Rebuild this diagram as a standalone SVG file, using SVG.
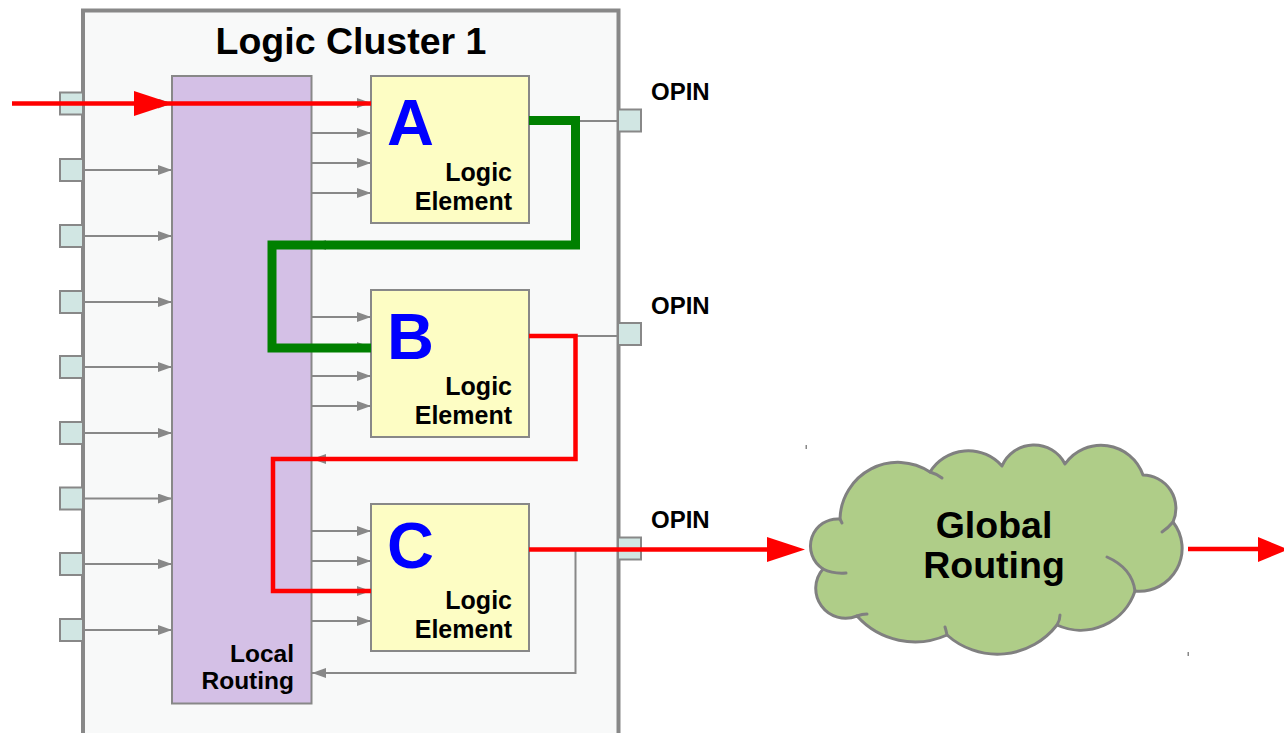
<svg xmlns="http://www.w3.org/2000/svg" width="1284" height="733" viewBox="0 0 1284 733">
<defs>
<style>
.pin{fill:#d1e6e3;stroke:#888;stroke-width:2}
.le{fill:#fdfdc4;stroke:#888;stroke-width:2}
.wire{fill:none;stroke:#888;stroke-width:2}
.arr{marker-end:url(#ah)}
.lbl{font-family:"Liberation Sans",Arial,sans-serif;font-weight:bold;fill:#000}
.big{font-family:"Liberation Sans",Arial,sans-serif;font-weight:bold;fill:#0000ff;font-size:65px}
.red{fill:none;stroke:#ff0000;stroke-width:4.5}
.green{fill:none;stroke:#008000;stroke-width:9}
.redhead{fill:#ff0000}
</style>
<marker id="ah" markerUnits="userSpaceOnUse" markerWidth="14" markerHeight="10" refX="14" refY="5" orient="auto">
<path d="M0,0 L14,5 L0,10 z" fill="#888"/>
</marker>
</defs>

<!-- cluster outline -->
<g id="cluster">
<rect x="83" y="10.5" width="535.5" height="740" fill="#f8f9f9" stroke="#888" stroke-width="4"/>
<text class="lbl" x="351" y="54" font-size="37.5" text-anchor="middle">Logic Cluster 1</text>
</g>

<!-- input pins -->
<g id="ipins">
<rect class="pin" x="60" y="92.5" width="23" height="22"/>
<rect class="pin" x="60" y="159" width="23" height="22"/>
<rect class="pin" x="60" y="225" width="23" height="22"/>
<rect class="pin" x="60" y="291" width="23" height="22"/>
<rect class="pin" x="60" y="356" width="23" height="22"/>
<rect class="pin" x="60" y="422" width="23" height="22"/>
<rect class="pin" x="60" y="487.5" width="23" height="22"/>
<rect class="pin" x="60" y="553" width="23" height="22"/>
<rect class="pin" x="60" y="619" width="23" height="22"/>
</g>

<!-- output pins -->
<g id="opins">
<rect class="pin" x="618" y="109.5" width="23" height="22"/>
<rect class="pin" x="618" y="323" width="23" height="22"/>
<rect class="pin" x="618" y="537.5" width="23" height="22"/>
<text class="lbl" x="651" y="100" font-size="24">OPIN</text>
<text class="lbl" x="651" y="314" font-size="24">OPIN</text>
<text class="lbl" x="651" y="528" font-size="24">OPIN</text>
</g>

<!-- local routing block -->
<g id="local-routing">
<rect x="172" y="76" width="139.5" height="627.5" fill="#d4c0e6" stroke="#888" stroke-width="2"/>
<text class="lbl" x="294" y="662" font-size="24.5" text-anchor="end">Local</text>
<text class="lbl" x="294" y="689" font-size="24.5" text-anchor="end">Routing</text>
</g>

<!-- logic elements -->
<g id="le-a">
<rect class="le" x="371" y="76" width="158" height="147"/>
<text class="big" x="387" y="145">A</text>
<text class="lbl" x="512" y="181" font-size="25" text-anchor="end">Logic</text>
<text class="lbl" x="512" y="210" font-size="25" text-anchor="end">Element</text>
</g>
<g id="le-b">
<rect class="le" x="371" y="290" width="158" height="147"/>
<text class="big" x="387" y="359">B</text>
<text class="lbl" x="512" y="395" font-size="25" text-anchor="end">Logic</text>
<text class="lbl" x="512" y="424" font-size="25" text-anchor="end">Element</text>
</g>
<g id="le-c">
<rect class="le" x="371" y="504" width="158" height="147"/>
<text class="big" x="387" y="568">C</text>
<text class="lbl" x="512" y="609" font-size="25" text-anchor="end">Logic</text>
<text class="lbl" x="512" y="638" font-size="25" text-anchor="end">Element</text>
</g>

<!-- global routing cloud -->
<g id="global-routing">
<path d="M840,519 A58,58 0 0 1 930,472 A45,45 0 0 1 1002,466 A34.8,34.8 0 0 1 1065,464 A44.3,44.3 0 0 1 1143,475 A33.4,33.4 0 0 1 1173,522 A42.8,42.8 0 0 1 1135,591 A57,57 0 0 1 1057,625 A75.6,75.6 0 0 1 947,635 A78,78 0 0 1 857,616 A29.8,29.8 0 0 1 823,569 A27.2,27.2 0 0 1 840,519 Z" fill="#afcd88" stroke="#808080" stroke-width="3" stroke-linejoin="round"/>
<g fill="none" stroke="#808080" stroke-width="3" stroke-linecap="round">
<path d="M823,569 Q833,574 846,573"/>
<path d="M857,616 Q862,614 867,614"/>
<path d="M947,635 Q946,630 945,627"/>
<path d="M1057,625 Q1060,620 1060,615"/>
<path d="M1135,591 Q1132,568 1107,557"/>
<path d="M1173,522 Q1168,528 1162,532"/>
<path d="M930,472 Q937,474 942,478"/>
<path d="M840,519 Q841,521 842,523"/>
</g>
<text class="lbl" x="994" y="538" font-size="37.5" text-anchor="middle">Global</text>
<text class="lbl" x="994" y="578" font-size="37.5" text-anchor="middle">Routing</text>
<rect x="805.5" y="445" width="1.5" height="4" fill="#888"/>
<rect x="1187.5" y="652" width="1.5" height="4" fill="#888"/>
</g>

<!-- connectors -->
<g id="connectors">
<!-- input pins into local routing -->
<path class="wire arr" d="M85,103.5 H172"/>
<path class="wire arr" d="M85,170 H172"/>
<path class="wire arr" d="M85,236 H172"/>
<path class="wire arr" d="M85,302 H172"/>
<path class="wire arr" d="M85,367 H172"/>
<path class="wire arr" d="M85,433 H172"/>
<path class="wire arr" d="M85,498.5 H172"/>
<path class="wire arr" d="M85,564 H172"/>
<path class="wire arr" d="M85,630 H172"/>
<!-- local routing into logic elements -->
<path class="wire arr" d="M312,103 H371"/>
<path class="wire arr" d="M312,133 H371"/>
<path class="wire arr" d="M312,163 H371"/>
<path class="wire arr" d="M312,193 H371"/>
<path class="wire arr" d="M312,317 H371"/>
<path class="wire arr" d="M312,347 H371"/>
<path class="wire arr" d="M312,376 H371"/>
<path class="wire arr" d="M312,406 H371"/>
<path class="wire arr" d="M312,531 H371"/>
<path class="wire arr" d="M312,561 H371"/>
<path class="wire arr" d="M312,591 H371"/>
<path class="wire arr" d="M312,621 H371"/>
<!-- logic element outputs to pins and feedback -->
<path class="wire" d="M529,121 H618"/>
<path class="wire arr" d="M575.5,121 V245 H312"/>
<path class="wire" d="M529,336 H618"/>
<path class="wire arr" d="M575.5,336 V459 H312"/>
<path class="wire" d="M529,549 H618"/>
<path class="wire arr" d="M575.5,549 V673 H312"/>
<!-- highlighted nets -->
<path class="red" d="M12,103.5 H371"/>
<polygon class="redhead" points="134,91 172,103.5 134,116"/>
<path class="green" d="M529,120.5 H575.5 V245 H272 V348 H371"/>
<path class="red" d="M529,336 H575.5 V459 H273 V591 H371"/>
<path class="red" d="M529,549.5 H770"/>
<polygon class="redhead" points="767,537 805,549.5 767,562"/>
<path class="red" d="M1188,549 H1260"/>
<polygon class="redhead" points="1258,537 1288,549.5 1258,562"/>
</g>
</svg>
